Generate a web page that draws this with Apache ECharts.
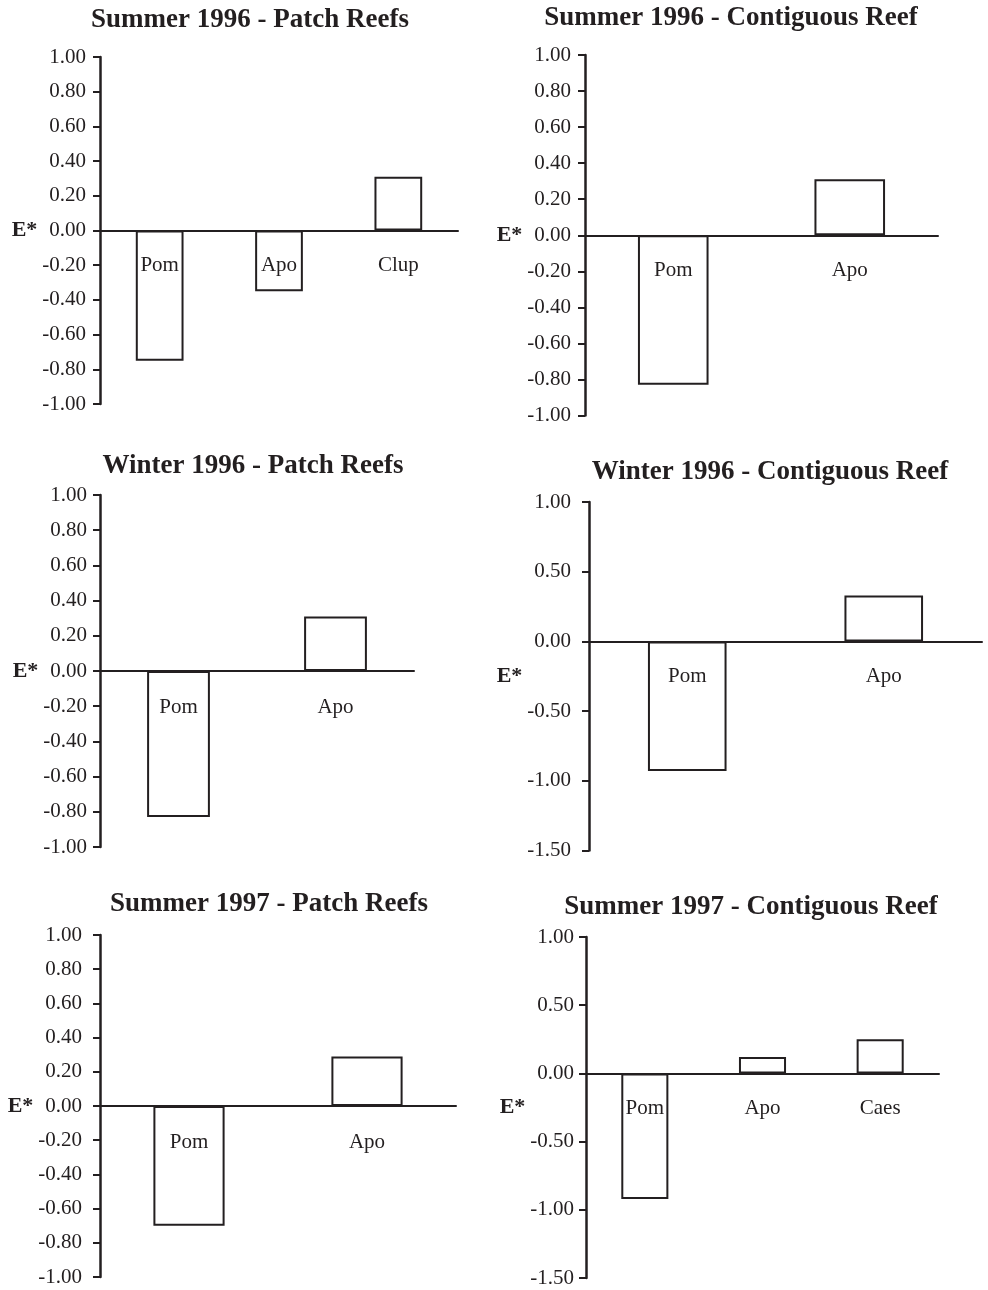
<!DOCTYPE html>
<html>
<head>
<meta charset="utf-8">
<script src="https://cdn.jsdelivr.net/npm/echarts@6/dist/echarts.min.js"></script>
<style>
  html, body { margin: 0; padding: 0; background: #fff; }
  #chart { width: 988px; height: 1290px; }
</style>
</head>
<body>
<div id="chart"></div>
<script>
// Electivity index E* by reef type and season
const panelTitles = [
  'Summer 1996 - Patch Reefs',
  'Summer 1996 - Contiguous Reef',
  'Winter 1996 - Patch Reefs',
  'Winter 1996 - Contiguous Reef',
  'Summer 1997 - Patch Reefs',
  'Summer 1997 - Contiguous Reef'
];

const summer96PatchTaxa = ['Pom', 'Apo', 'Clup'];
const summer96PatchE = [-0.75, -0.35, 0.31];

const summer96ContigTaxa = ['Pom', 'Apo'];
const summer96ContigE = [-0.83, 0.31];

const winter96PatchTaxa = ['Pom', 'Apo'];
const winter96PatchE = [-0.83, 0.31];

const winter96ContigTaxa = ['Pom', 'Apo'];
const winter96ContigE = [-0.93, 0.33];

const summer97PatchTaxa = ['Pom', 'Apo'];
const summer97PatchE = [-0.70, 0.29];

const summer97ContigTaxa = ['Pom', 'Apo', 'Caes'];
const summer97ContigE = [-0.92, 0.12, 0.25];

// y-axis ranges and tick steps per panel
const yMins = [-1, -1, -1, -1.5, -1, -1.5];
const yMaxs = [1, 1, 1, 1, 1, 1];
const ySteps = [0.2, 0.2, 0.2, 0.5, 0.2, 0.5];

const taxa = [summer96PatchTaxa, summer96ContigTaxa, winter96PatchTaxa,
              winter96ContigTaxa, summer97PatchTaxa, summer97ContigTaxa];
const eValues = [summer96PatchE, summer96ContigE, winter96PatchE,
                 winter96ContigE, summer97PatchE, summer97ContigE];

// plot-area boxes: [left, top, width, height]
const boxes = [
  [100, 57, 358, 347],
  [585, 55, 353, 360.5],
  [100, 495, 314, 352],
  [589, 502, 393, 348.5],
  [100, 935, 356, 342],
  [586, 937, 353, 341]
];
// title centres and tops
const titlePos = [[250, 7], [731, 5], [253, 453], [770, 459], [269, 891], [751, 894]];
const nameGaps = [60, 61, 60, 60, 65, 57];
const yLabelMargins = [14, 14, 13, 18, 18, 12];
const xLabelMargins = [24, 25, 26, 25, 26, 25];

const INK = '#231f20';
const SERIF = '"Liberation Serif", "Times New Roman", serif';

// the category axis sits on the zero line: lift it from the grid bottom
// by the share of the value range that lies below zero
function zeroOffset(i) {
  const h = boxes[i][3];
  return -h * (0 - yMins[i]) / (yMaxs[i] - yMins[i]);
}

const option = {
  backgroundColor: '#fff',
  animation: false,
  title: panelTitles.map((t, i) => ({
    text: t,
    left: titlePos[i][0],
    top: titlePos[i][1],
    textAlign: 'center',
    padding: 0,
    textStyle: { fontFamily: SERIF, fontWeight: 'bold', fontSize: 27, color: INK }
  })),
  grid: boxes.map(b => ({ left: b[0], top: b[1], width: b[2], height: b[3], containLabel: false })),
  xAxis: taxa.map((cats, i) => ({
    type: 'category',
    gridIndex: i,
    data: cats,
    position: 'bottom',
    offset: zeroOffset(i),
    z: 10,
    axisLine: { onZero: false, lineStyle: { color: INK, width: 2 } },
    axisTick: { show: false },
    axisLabel: { margin: xLabelMargins[i], fontFamily: SERIF, fontSize: 21, color: INK },
    splitLine: { show: false }
  })),
  yAxis: taxa.map((_, i) => ({
    type: 'value',
    gridIndex: i,
    min: yMins[i],
    max: yMaxs[i],
    interval: ySteps[i],
    name: 'E*',
    nameLocation: 'middle',
    nameRotate: 0,
    nameGap: nameGaps[i],
    nameTextStyle: { fontFamily: SERIF, fontWeight: 'bold', fontSize: 22, color: INK },
    axisLine: { show: true, lineStyle: { color: INK, width: 2.5 } },
    axisTick: { show: true, inside: false, length: 7, lineStyle: { color: INK, width: 2 } },
    axisLabel: {
      margin: yLabelMargins[i],
      fontFamily: SERIF, fontSize: 21, color: INK,
      formatter: v => v.toFixed(2)
    },
    splitLine: { show: false }
  })),
  series: eValues.map((vals, i) => ({
    type: 'bar',
    xAxisIndex: i,
    yAxisIndex: i,
    data: vals,
    barWidth: '40%',
    itemStyle: { color: '#fff', borderColor: INK, borderWidth: 2 },
    emphasis: { disabled: true }
  }))
};

const chart = echarts.init(document.getElementById('chart'), null, { renderer: 'canvas' });
chart.setOption(option);
</script>
</body>
</html>
